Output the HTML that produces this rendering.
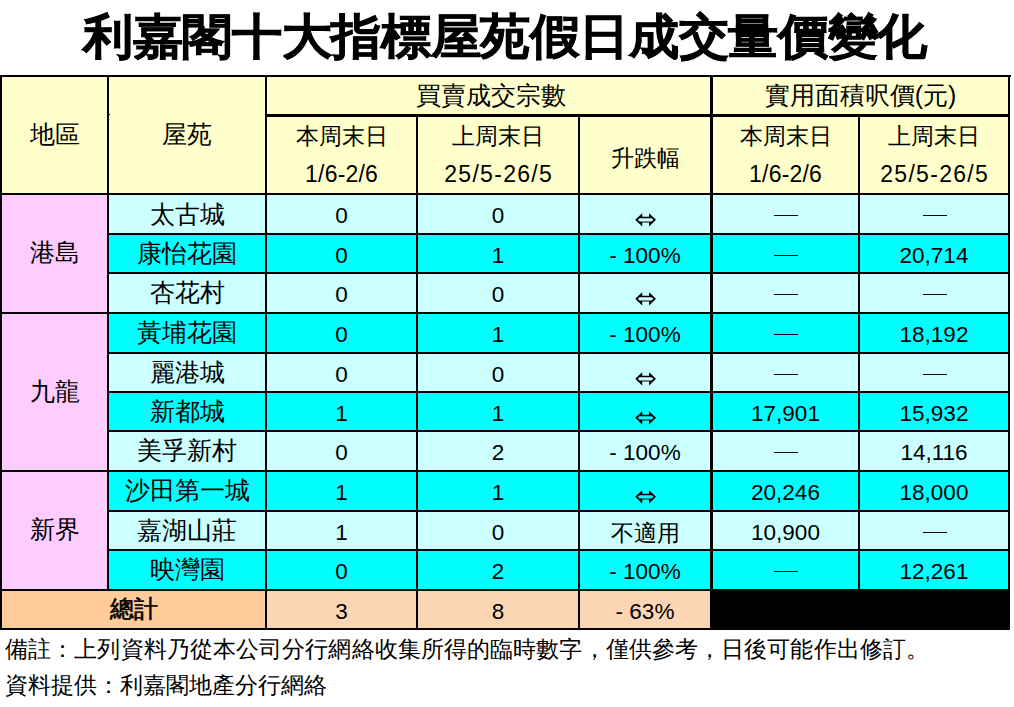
<!DOCTYPE html>
<html><head><meta charset="utf-8"><title>利嘉閣十大指標屋苑假日成交量價變化</title><style>
html,body{margin:0;padding:0}
body{width:1014px;height:707px;background:#fff;position:relative;overflow:hidden;font-family:"Liberation Sans",sans-serif;color:#000}
.a{position:absolute}
.t{position:absolute;white-space:nowrap;text-align:center;line-height:1;font-weight:350}
</style></head><body>
<div class="a" style="left:0px;top:75px;width:1010px;height:118px;background:#ffffcc"></div>
<div class="a" style="left:0px;top:193px;width:107px;height:40px;background:#ffccff"></div>
<div class="a" style="left:107px;top:193px;width:903px;height:40px;background:#ccffff"></div>
<div class="a" style="left:0px;top:233px;width:107px;height:39px;background:#ffccff"></div>
<div class="a" style="left:107px;top:233px;width:903px;height:39px;background:#00ffff"></div>
<div class="a" style="left:0px;top:272px;width:107px;height:40px;background:#ffccff"></div>
<div class="a" style="left:107px;top:272px;width:903px;height:40px;background:#ccffff"></div>
<div class="a" style="left:0px;top:312px;width:107px;height:40px;background:#ffccff"></div>
<div class="a" style="left:107px;top:312px;width:903px;height:40px;background:#00ffff"></div>
<div class="a" style="left:0px;top:352px;width:107px;height:39px;background:#ffccff"></div>
<div class="a" style="left:107px;top:352px;width:903px;height:39px;background:#ccffff"></div>
<div class="a" style="left:0px;top:391px;width:107px;height:39px;background:#ffccff"></div>
<div class="a" style="left:107px;top:391px;width:903px;height:39px;background:#00ffff"></div>
<div class="a" style="left:0px;top:430px;width:107px;height:40px;background:#ffccff"></div>
<div class="a" style="left:107px;top:430px;width:903px;height:40px;background:#ccffff"></div>
<div class="a" style="left:0px;top:470px;width:107px;height:40px;background:#ffccff"></div>
<div class="a" style="left:107px;top:470px;width:903px;height:40px;background:#00ffff"></div>
<div class="a" style="left:0px;top:510px;width:107px;height:39px;background:#ffccff"></div>
<div class="a" style="left:107px;top:510px;width:903px;height:39px;background:#ccffff"></div>
<div class="a" style="left:0px;top:549px;width:107px;height:40px;background:#ffccff"></div>
<div class="a" style="left:107px;top:549px;width:903px;height:40px;background:#00ffff"></div>
<div class="a" style="left:0px;top:589px;width:265px;height:39px;background:#ffcc99"></div>
<div class="a" style="left:265px;top:589px;width:445px;height:39px;background:#fcd5b4"></div>
<div class="a" style="left:710px;top:589px;width:300px;height:40px;background:#000"></div>
<div class="a" style="left:0px;top:75px;width:1010px;height:2px;background:#000"></div>
<div class="a" style="left:0px;top:628px;width:1010px;height:2px;background:#000"></div>
<div class="a" style="left:0px;top:75px;width:2px;height:555px;background:#000"></div>
<div class="a" style="left:1008px;top:75px;width:2px;height:555px;background:#000"></div>
<div class="a" style="left:265px;top:114px;width:745px;height:3px;background:#000"></div>
<div class="a" style="left:0px;top:193px;width:1010px;height:2px;background:#000"></div>
<div class="a" style="left:107px;top:233px;width:903px;height:2px;background:#000"></div>
<div class="a" style="left:107px;top:272px;width:903px;height:2px;background:#000"></div>
<div class="a" style="left:107px;top:312px;width:903px;height:2px;background:#000"></div>
<div class="a" style="left:107px;top:352px;width:903px;height:2px;background:#000"></div>
<div class="a" style="left:107px;top:391px;width:903px;height:2px;background:#000"></div>
<div class="a" style="left:107px;top:430px;width:903px;height:2px;background:#000"></div>
<div class="a" style="left:107px;top:470px;width:903px;height:2px;background:#000"></div>
<div class="a" style="left:107px;top:510px;width:903px;height:2px;background:#000"></div>
<div class="a" style="left:107px;top:549px;width:903px;height:2px;background:#000"></div>
<div class="a" style="left:107px;top:589px;width:903px;height:2px;background:#000"></div>
<div class="a" style="left:0px;top:312px;width:1010px;height:2px;background:#000"></div>
<div class="a" style="left:0px;top:470px;width:1010px;height:2px;background:#000"></div>
<div class="a" style="left:0px;top:589px;width:1010px;height:2px;background:#000"></div>
<div class="a" style="left:107px;top:75px;width:2px;height:514px;background:#000"></div>
<div class="a" style="left:265px;top:75px;width:2px;height:555px;background:#000"></div>
<div class="a" style="left:416px;top:115px;width:2px;height:515px;background:#000"></div>
<div class="a" style="left:578px;top:115px;width:2px;height:515px;background:#000"></div>
<div class="a" style="left:710px;top:75px;width:3px;height:514px;background:#000"></div>
<div class="a" style="left:858px;top:115px;width:2px;height:474px;background:#000"></div>
<div class="a" style="left:109px;top:114px;width:1px;height:1px;background:#000"></div>
<div class="a" style="left:1010px;top:75px;width:1px;height:2px;background:#000"></div>
<div class="t" style="left:0;width:1010px;top:12.8px;font-size:50px;font-weight:900;-webkit-text-stroke:0.8px #000;transform:scale(0.993,0.95);transform-origin:50% 0">利嘉閣十大指標屋苑假日成交量價變化</div>
<div class="t" style="left:2px;width:105px;top:122.0px;font-size:25px;">地區</div>
<div class="t" style="left:109px;width:156px;top:122.0px;font-size:25px;">屋苑</div>
<div class="t" style="left:269px;width:443px;top:82.5px;font-size:25px;">買賣成交宗數</div>
<div class="t" style="left:713px;width:295px;top:83.0px;font-size:25px;">實用面積呎價(元)</div>
<div class="t" style="left:267px;width:149px;top:126.2px;font-size:22.5px;">本周末日</div>
<div class="t" style="left:267px;width:149px;top:162.5px;font-size:23px;letter-spacing:0.2px;padding-left:0.2px;box-sizing:border-box">1/6-2/6</div>
<div class="t" style="left:418px;width:160px;top:126.2px;font-size:22.5px;">上周末日</div>
<div class="t" style="left:418px;width:160px;top:162.5px;font-size:23px;letter-spacing:1.3px;padding-left:1.3px;box-sizing:border-box">25/5-26/5</div>
<div class="t" style="left:713px;width:145px;top:126.2px;font-size:22.5px;">本周末日</div>
<div class="t" style="left:713px;width:145px;top:162.5px;font-size:23px;letter-spacing:0.2px;padding-left:0.2px;box-sizing:border-box">1/6-2/6</div>
<div class="t" style="left:860px;width:148px;top:126.2px;font-size:22.5px;">上周末日</div>
<div class="t" style="left:860px;width:148px;top:162.5px;font-size:23px;letter-spacing:1.3px;padding-left:1.3px;box-sizing:border-box">25/5-26/5</div>
<div class="t" style="left:580px;width:130px;top:146.5px;font-size:23px;">升跌幅</div>
<div class="t" style="left:2px;width:105px;top:240.3px;font-size:25px;">港島</div>
<div class="t" style="left:2px;width:105px;top:378.8px;font-size:25px;">九龍</div>
<div class="t" style="left:2px;width:105px;top:517.3px;font-size:25px;">新界</div>
<div class="t" style="left:109px;width:156px;top:202.2px;font-size:25px;">太古城</div>
<div class="t" style="left:267px;width:149px;top:204.5px;font-size:22.5px;">0</div>
<div class="t" style="left:418px;width:160px;top:204.5px;font-size:22.5px;">0</div>
<svg class="a" style="left:635px;top:213px" width="22" height="14" viewBox="0 0 22 14"><path fill-rule="evenodd" fill="#000" d="M0.2 6.7L7.2 0.2L7.3 3.8L14 3.8L14.1 0.2L21 6.7L14.1 13.4L14 9.6L7.3 9.6L7.2 13.4ZM2.8 6.8L4.6 5.2L16.6 5.2L18.4 6.8L16.6 8.4L4.6 8.4Z"/></svg>
<div class="a" style="left:774px;top:215px;width:24px;height:1.4px;background:#000"></div>
<div class="a" style="left:923px;top:215px;width:24px;height:1.4px;background:#000"></div>
<div class="t" style="left:109px;width:156px;top:241.0px;font-size:25px;">康怡花園</div>
<div class="t" style="left:267px;width:149px;top:244.5px;font-size:22.5px;">0</div>
<div class="t" style="left:418px;width:160px;top:244.5px;font-size:22.5px;">1</div>
<div class="t" style="left:580px;width:130px;top:244.5px;font-size:22.5px;">- 100%</div>
<div class="a" style="left:774px;top:255px;width:24px;height:1.4px;background:#000"></div>
<div class="t" style="left:860px;width:148px;top:244.5px;font-size:22.5px;">20,714</div>
<div class="t" style="left:109px;width:156px;top:280.0px;font-size:25px;">杏花村</div>
<div class="t" style="left:267px;width:149px;top:283.5px;font-size:22.5px;">0</div>
<div class="t" style="left:418px;width:160px;top:283.5px;font-size:22.5px;">0</div>
<svg class="a" style="left:635px;top:292px" width="22" height="14" viewBox="0 0 22 14"><path fill-rule="evenodd" fill="#000" d="M0.2 6.7L7.2 0.2L7.3 3.8L14 3.8L14.1 0.2L21 6.7L14.1 13.4L14 9.6L7.3 9.6L7.2 13.4ZM2.8 6.8L4.6 5.2L16.6 5.2L18.4 6.8L16.6 8.4L4.6 8.4Z"/></svg>
<div class="a" style="left:774px;top:294px;width:24px;height:1.4px;background:#000"></div>
<div class="a" style="left:923px;top:294px;width:24px;height:1.4px;background:#000"></div>
<div class="t" style="left:109px;width:156px;top:320.0px;font-size:25px;">黃埔花園</div>
<div class="t" style="left:267px;width:149px;top:323.5px;font-size:22.5px;">0</div>
<div class="t" style="left:418px;width:160px;top:323.5px;font-size:22.5px;">1</div>
<div class="t" style="left:580px;width:130px;top:323.5px;font-size:22.5px;">- 100%</div>
<div class="a" style="left:774px;top:334px;width:24px;height:1.4px;background:#000"></div>
<div class="t" style="left:860px;width:148px;top:323.5px;font-size:22.5px;">18,192</div>
<div class="t" style="left:109px;width:156px;top:360.0px;font-size:25px;">麗港城</div>
<div class="t" style="left:267px;width:149px;top:363.5px;font-size:22.5px;">0</div>
<div class="t" style="left:418px;width:160px;top:363.5px;font-size:22.5px;">0</div>
<svg class="a" style="left:635px;top:372px" width="22" height="14" viewBox="0 0 22 14"><path fill-rule="evenodd" fill="#000" d="M0.2 6.7L7.2 0.2L7.3 3.8L14 3.8L14.1 0.2L21 6.7L14.1 13.4L14 9.6L7.3 9.6L7.2 13.4ZM2.8 6.8L4.6 5.2L16.6 5.2L18.4 6.8L16.6 8.4L4.6 8.4Z"/></svg>
<div class="a" style="left:774px;top:374px;width:24px;height:1.4px;background:#000"></div>
<div class="a" style="left:923px;top:374px;width:24px;height:1.4px;background:#000"></div>
<div class="t" style="left:109px;width:156px;top:399.0px;font-size:25px;">新都城</div>
<div class="t" style="left:267px;width:149px;top:402.5px;font-size:22.5px;">1</div>
<div class="t" style="left:418px;width:160px;top:402.5px;font-size:22.5px;">1</div>
<svg class="a" style="left:635px;top:411px" width="22" height="14" viewBox="0 0 22 14"><path fill-rule="evenodd" fill="#000" d="M0.2 6.7L7.2 0.2L7.3 3.8L14 3.8L14.1 0.2L21 6.7L14.1 13.4L14 9.6L7.3 9.6L7.2 13.4ZM2.8 6.8L4.6 5.2L16.6 5.2L18.4 6.8L16.6 8.4L4.6 8.4Z"/></svg>
<div class="t" style="left:713px;width:145px;top:402.5px;font-size:22.5px;">17,901</div>
<div class="t" style="left:860px;width:148px;top:402.5px;font-size:22.5px;">15,932</div>
<div class="t" style="left:109px;width:156px;top:438.0px;font-size:25px;">美孚新村</div>
<div class="t" style="left:267px;width:149px;top:441.5px;font-size:22.5px;">0</div>
<div class="t" style="left:418px;width:160px;top:441.5px;font-size:22.5px;">2</div>
<div class="t" style="left:580px;width:130px;top:441.5px;font-size:22.5px;">- 100%</div>
<div class="a" style="left:774px;top:452px;width:24px;height:1.4px;background:#000"></div>
<div class="t" style="left:860px;width:148px;top:441.5px;font-size:22.5px;">14,116</div>
<div class="t" style="left:109px;width:156px;top:478.0px;font-size:25px;">沙田第一城</div>
<div class="t" style="left:267px;width:149px;top:481.5px;font-size:22.5px;">1</div>
<div class="t" style="left:418px;width:160px;top:481.5px;font-size:22.5px;">1</div>
<svg class="a" style="left:635px;top:490px" width="22" height="14" viewBox="0 0 22 14"><path fill-rule="evenodd" fill="#000" d="M0.2 6.7L7.2 0.2L7.3 3.8L14 3.8L14.1 0.2L21 6.7L14.1 13.4L14 9.6L7.3 9.6L7.2 13.4ZM2.8 6.8L4.6 5.2L16.6 5.2L18.4 6.8L16.6 8.4L4.6 8.4Z"/></svg>
<div class="t" style="left:713px;width:145px;top:481.5px;font-size:22.5px;">20,246</div>
<div class="t" style="left:860px;width:148px;top:481.5px;font-size:22.5px;">18,000</div>
<div class="t" style="left:109px;width:156px;top:518.0px;font-size:25px;">嘉湖山莊</div>
<div class="t" style="left:267px;width:149px;top:521.5px;font-size:22.5px;">1</div>
<div class="t" style="left:418px;width:160px;top:521.5px;font-size:22.5px;">0</div>
<div class="t" style="left:580px;width:130px;top:521.5px;font-size:23px;">不適用</div>
<div class="t" style="left:713px;width:145px;top:521.5px;font-size:22.5px;">10,900</div>
<div class="a" style="left:923px;top:532px;width:24px;height:1.4px;background:#000"></div>
<div class="t" style="left:109px;width:156px;top:557.0px;font-size:25px;">映灣園</div>
<div class="t" style="left:267px;width:149px;top:560.5px;font-size:22.5px;">0</div>
<div class="t" style="left:418px;width:160px;top:560.5px;font-size:22.5px;">2</div>
<div class="t" style="left:580px;width:130px;top:560.5px;font-size:22.5px;">- 100%</div>
<div class="a" style="left:774px;top:571px;width:24px;height:1.4px;background:#000"></div>
<div class="t" style="left:860px;width:148px;top:560.5px;font-size:22.5px;">12,261</div>
<div class="t" style="left:2px;width:263px;top:597.1px;font-size:24px;font-weight:400;-webkit-text-stroke:0.6px #000">總計</div>
<div class="t" style="left:267px;width:149px;top:600.5px;font-size:22.5px;">3</div>
<div class="t" style="left:418px;width:160px;top:600.5px;font-size:22.5px;">8</div>
<div class="t" style="left:580px;width:130px;top:600.5px;font-size:22.5px;">- 63%</div>
<div class="t" style="left:5px;width:995px;top:637.5px;font-size:23px;text-align:left;width:auto;font-weight:400;letter-spacing:0.1px;padding-left:0.1px;box-sizing:border-box">備註：上列資料乃從本公司分行網絡收集所得的臨時數字，僅供參考，日後可能作出修訂。</div>
<div class="t" style="left:5px;width:995px;top:674.3px;font-size:23px;text-align:left;width:auto;font-weight:400">資料提供：利嘉閣地產分行網絡</div>
</body></html>
